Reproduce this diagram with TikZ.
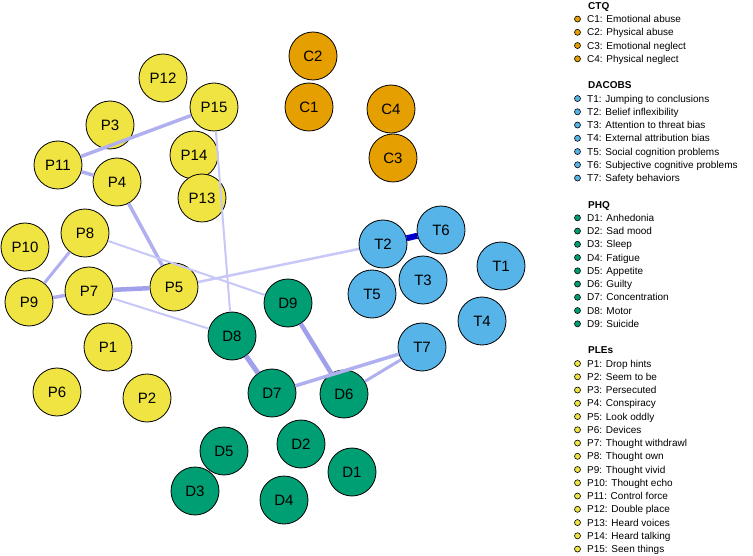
\documentclass[tikz,border=0pt]{standalone}
\usepackage{fontspec}
\setmainfont{Liberation Sans}
\definecolor{pyel}{HTML}{F0E442}
\definecolor{cora}{HTML}{E69F00}
\definecolor{tblu}{HTML}{56B4E9}
\definecolor{dgrn}{HTML}{009E73}
\definecolor{ethin}{HTML}{C8C8F8}
\definecolor{emid}{HTML}{B0B0F0}
\definecolor{ethk}{HTML}{A0A0EC}
\definecolor{estr}{HTML}{0000CD}
\begin{document}
\begin{tikzpicture}[x=1pt,y=-1pt,
  vnode/.style={circle,draw=black,line width=0.8pt,minimum size=48pt,inner sep=0pt,font=\fontsize{15}{15}\selectfont},
  pn/.style={vnode,fill=pyel},
  cn/.style={vnode,fill=cora},
  tn/.style={vnode,fill=tblu},
  dn/.style={vnode,fill=dgrn},
  conn/.style={line width=#1},
  ldot/.style={circle,draw=black,line width=0.6pt,minimum size=6pt,inner sep=0pt},
  ltext/.style={anchor=base west,inner sep=0pt,font=\fontsize{10}{12}\selectfont},
  lhead/.style={anchor=base west,inner sep=0pt,font=\bfseries\fontsize{10}{12}\selectfont}
]
\useasboundingbox[fill=white] (0,0) rectangle (753,556);
% PLEs
\node[pn] (P1) at (108,347) {P1};
\node[pn] (P2) at (147,398) {P2};
\node[pn] (P3) at (110,125) {P3};
\node[pn] (P4) at (117,182) {P4};
\node[pn] (P5) at (174,287) {P5};
\node[pn] (P6) at (57,392) {P6};
\node[pn] (P7) at (89,291) {P7};
\node[pn] (P8) at (85,233) {P8};
\node[pn] (P9) at (29,302) {P9};
\node[pn] (P10) at (25,247) {P10};
\node[pn] (P11) at (58,165) {P11};
\node[pn] (P12) at (163,78) {P12};
\node[pn] (P14) at (194,155) {P14};
\node[pn] (P13) at (202,198) {P13};
\node[pn] (P15) at (214,107) {P15};
% CTQ
\node[cn] (C2) at (313,56) {C2};
\node[cn] (C1) at (309,107) {C1};
\node[cn] (C4) at (391,109) {C4};
\node[cn] (C3) at (393,158) {C3};
% DACOBS
\node[tn] (T1) at (501,266) {T1};
\node[tn] (T2) at (383,244) {T2};
\node[tn] (T3) at (423,280) {T3};
\node[tn] (T4) at (482,321) {T4};
\node[tn] (T5) at (372,294) {T5};
\node[tn] (T6) at (441,230) {T6};
\node[tn] (T7) at (422,347) {T7};
% PHQ
\node[dn] (D1) at (352,472) {D1};
\node[dn] (D2) at (301,444) {D2};
\node[dn] (D5) at (224,451) {D5};
\node[dn] (D3) at (195,491) {D3};
\node[dn] (D4) at (284,500) {D4};
\node[dn] (D6) at (344,394) {D6};
\node[dn] (D7) at (272,393) {D7};
\node[dn] (D8) at (232,336) {D8};
\node[dn] (D9) at (288,303) {D9};
% edges
\draw[conn=6pt,estr] (T2) -- (T6);
\draw[conn=4.5pt,ethk] (P7) -- (P5);
\draw[conn=5pt,ethk] (D8) -- (D7);
\draw[conn=4.5pt,ethk] (D9) -- (D6);
\draw[conn=3.5pt,emid] (P11) -- (P15);
\draw[conn=3.5pt,emid] (P11) -- (P4);
\draw[conn=3.5pt,emid] (P4) -- (P5);
\draw[conn=3.5pt,emid] (P9) -- (P7);
\draw[conn=3pt,emid] (P9) -- (P8);
\draw[conn=3.5pt,emid] (D7) -- (T7);
\draw[conn=3pt,emid] (D6) -- (T7);
\draw[conn=2pt,ethin] (P15) -- (D8);
\draw[conn=2pt,ethin] (P8) -- (D9);
\draw[conn=2pt,ethin] (P7) -- (D8);
\draw[conn=2.5pt,ethin] (P5) -- (T2);
% legend
\node[lhead] (hC) at (588,{5.8+13.25*0+3.6}) {CTQ};
\foreach \k/\c/\t in {1/cora/{C1: Emotional abuse},2/cora/{C2: Physical abuse},3/cora/{C3: Emotional neglect},4/cora/{C4: Physical neglect},
  7/tblu/{T1: Jumping to conclusions},8/tblu/{T2: Belief inflexibility},9/tblu/{T3: Attention to threat bias},10/tblu/{T4: External attribution bias},11/tblu/{T5: Social cognition problems},12/tblu/{T6: Subjective cognitive problems},13/tblu/{T7: Safety behaviors},
  16/dgrn/{D1: Anhedonia},17/dgrn/{D2: Sad mood},18/dgrn/{D3: Sleep},19/dgrn/{D4: Fatigue},20/dgrn/{D5: Appetite},21/dgrn/{D6: Guilty},22/dgrn/{D7: Concentration},23/dgrn/{D8: Motor},24/dgrn/{D9: Suicide},
  27/pyel/{P1: Drop hints},28/pyel/{P2: Seem to be},29/pyel/{P3: Persecuted},30/pyel/{P4: Conspiracy},31/pyel/{P5: Look oddly},32/pyel/{P6: Devices},33/pyel/{P7: Thought withdrawl},34/pyel/{P8: Thought own},35/pyel/{P9: Thought vivid},36/pyel/{P10: Thought echo},37/pyel/{P11: Control force},38/pyel/{P12: Double place},39/pyel/{P13: Heard voices},40/pyel/{P14: Heard talking},41/pyel/{P15: Seen things}}{
  \node[ldot,fill=\c] (ld\k) at (577.5,{5.8+13.25*\k}) {};
  \node[ltext] (lt\k) at (587,{5.8+13.25*\k+3.6}) {\t};
}
\node[lhead] (hT) at (588,{5.8+13.25*6+3.6}) {DACOBS};
\node[lhead] (hD) at (588,{5.8+13.25*15+3.6}) {PHQ};
\node[lhead] (hP) at (588,{5.8+13.25*26+3.6}) {PLEs};
\end{tikzpicture}
\end{document}
